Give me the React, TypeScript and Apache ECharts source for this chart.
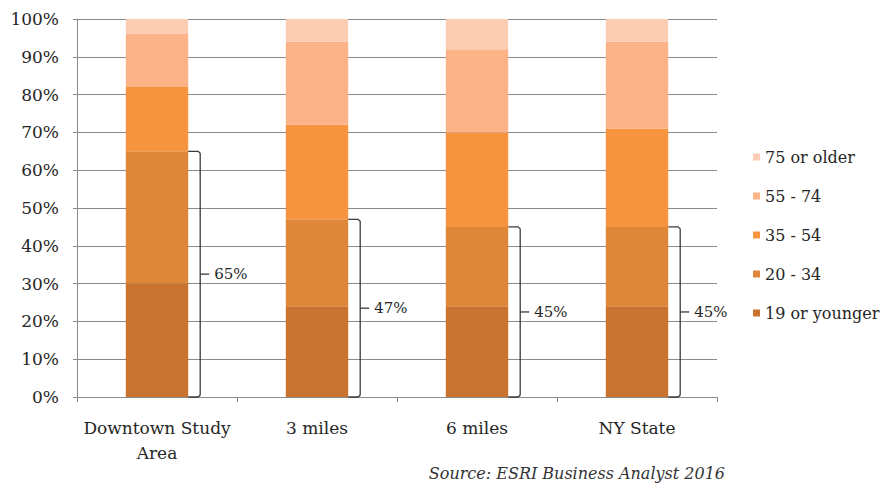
import React, { useEffect, useRef } from "react";
import * as echarts from "echarts";

// Age distribution by area (percent of population)
const categories = ["Downtown Study\nArea", "3 miles", "6 miles", "NY State"];
const ageGroups = ["19 or younger", "20 - 34", "35 - 54", "55 - 74", "75 or older"];
const age19Younger = [30, 24, 24, 24];
const age20to34 = [35, 23, 21, 21];
const age35to54 = [17, 25, 25, 26];
const age55to74 = [14, 22, 22, 23];
const age75Older = [4, 6, 8, 6];
const yTicks = [0, 100, 10]; // min, max, interval
const sourceNote = "Source: ESRI Business Analyst 2016";

const groupColors = ["#C8732F", "#DF8738", "#F7943F", "#FBB387", "#FCCDB3"];
const FONT = "DejaVu Serif";

export default function App() {
  const ref = useRef<HTMLDivElement>(null);

  useEffect(() => {
    document.body.style.margin = "0";
    if (!ref.current) return;
    const chart = echarts.init(ref.current, null, { renderer: "svg" });
    const seriesValues = [age19Younger, age20to34, age35to54, age55to74, age75Older];
    // share of the population under 35, marked with a bracket on each bar
    const under35 = categories.map((_, i) => [i, age19Younger[i] + age20to34[i]]);

    chart.setOption({
      animation: false,
      backgroundColor: "#ffffff",
      textStyle: { fontFamily: FONT },
      grid: { left: 77, right: 174, top: 19, bottom: 90, containLabel: false },
      legend: {
        orient: "vertical",
        left: 753,
        top: 148,
        padding: 0,
        itemGap: 21,
        itemWidth: 7,
        itemHeight: 7,
        icon: "rect",
        data: [...ageGroups].reverse(),
        textStyle: { fontFamily: FONT, fontSize: 16, color: "#262626", lineHeight: 18 },
      },
      xAxis: {
        type: "category",
        data: categories,
        axisLine: { lineStyle: { color: "#8a8a8a", width: 1 } },
        axisTick: { show: true, length: 5, lineStyle: { color: "#8a8a8a" } },
        axisLabel: {
          interval: 0,
          margin: 18,
          fontFamily: FONT,
          fontSize: 17,
          lineHeight: 25,
          color: "#262626",
          verticalAlign: "top",
        },
      },
      yAxis: {
        type: "value",
        min: yTicks[0],
        max: yTicks[1],
        interval: yTicks[2],
        axisLine: { show: true, lineStyle: { color: "#8a8a8a", width: 1 } },
        axisTick: { show: true, length: 4, lineStyle: { color: "#8a8a8a" } },
        splitLine: { lineStyle: { color: "#8a8a8a", width: 1 } },
        axisLabel: {
          formatter: "{value}%",
          margin: 18,
          fontFamily: FONT,
          fontSize: 17,
          color: "#262626",
        },
      },
      series: [
        ...ageGroups.map((name, i) => ({
          name,
          type: "bar",
          stack: "total",
          barWidth: "39%",
          data: seriesValues[i],
          itemStyle: { color: groupColors[i] },
        })),
        {
          name: "under 35",
          type: "custom",
          data: under35,
          encode: { x: 0, y: 1 },
          z: 5,
          renderItem: (_params: any, api: any) => {
            const idx = api.value(0);
            const total = api.value(1);
            const base = api.coord([idx, 0]);
            const top = api.coord([idx, total]);
            const band = api.size([1, 0])[0];
            const edge = base[0] + band * 0.195;
            const bx = base[0] + band * 0.27;
            const mid = (base[1] + top[1]) / 2;
            const stroke = "#3a3a3a";
            return {
              type: "group",
              children: [
                {
                  type: "polyline",
                  shape: {
                    points: [
                      [edge, top[1]],
                      [bx - 2, top[1]],
                      [bx, top[1] + 2],
                      [bx, base[1] - 2],
                      [bx - 2, base[1]],
                      [edge, base[1]],
                    ],
                  },
                  style: { stroke, lineWidth: 1.3, fill: null },
                },
                {
                  type: "line",
                  shape: { x1: bx, y1: mid, x2: bx + 9, y2: mid },
                  style: { stroke, lineWidth: 1.3 },
                },
                {
                  type: "text",
                  x: bx + 14,
                  y: mid,
                  style: {
                    text: total + "%",
                    fill: "#262626",
                    fontFamily: FONT,
                    fontSize: 15,
                    verticalAlign: "middle",
                    align: "left",
                  },
                },
              ],
            };
          },
        },
      ],
      graphic: [
        {
          type: "text",
          right: 166,
          top: 465,
          style: {
            text: sourceNote,
            fill: "#333333",
            fontFamily: FONT,
            fontStyle: "italic",
            fontSize: 16,
          },
        },
      ],
    });

    return () => chart.dispose();
  }, []);

  return <div ref={ref} style={{ width: 891, height: 487 }} />;
}
